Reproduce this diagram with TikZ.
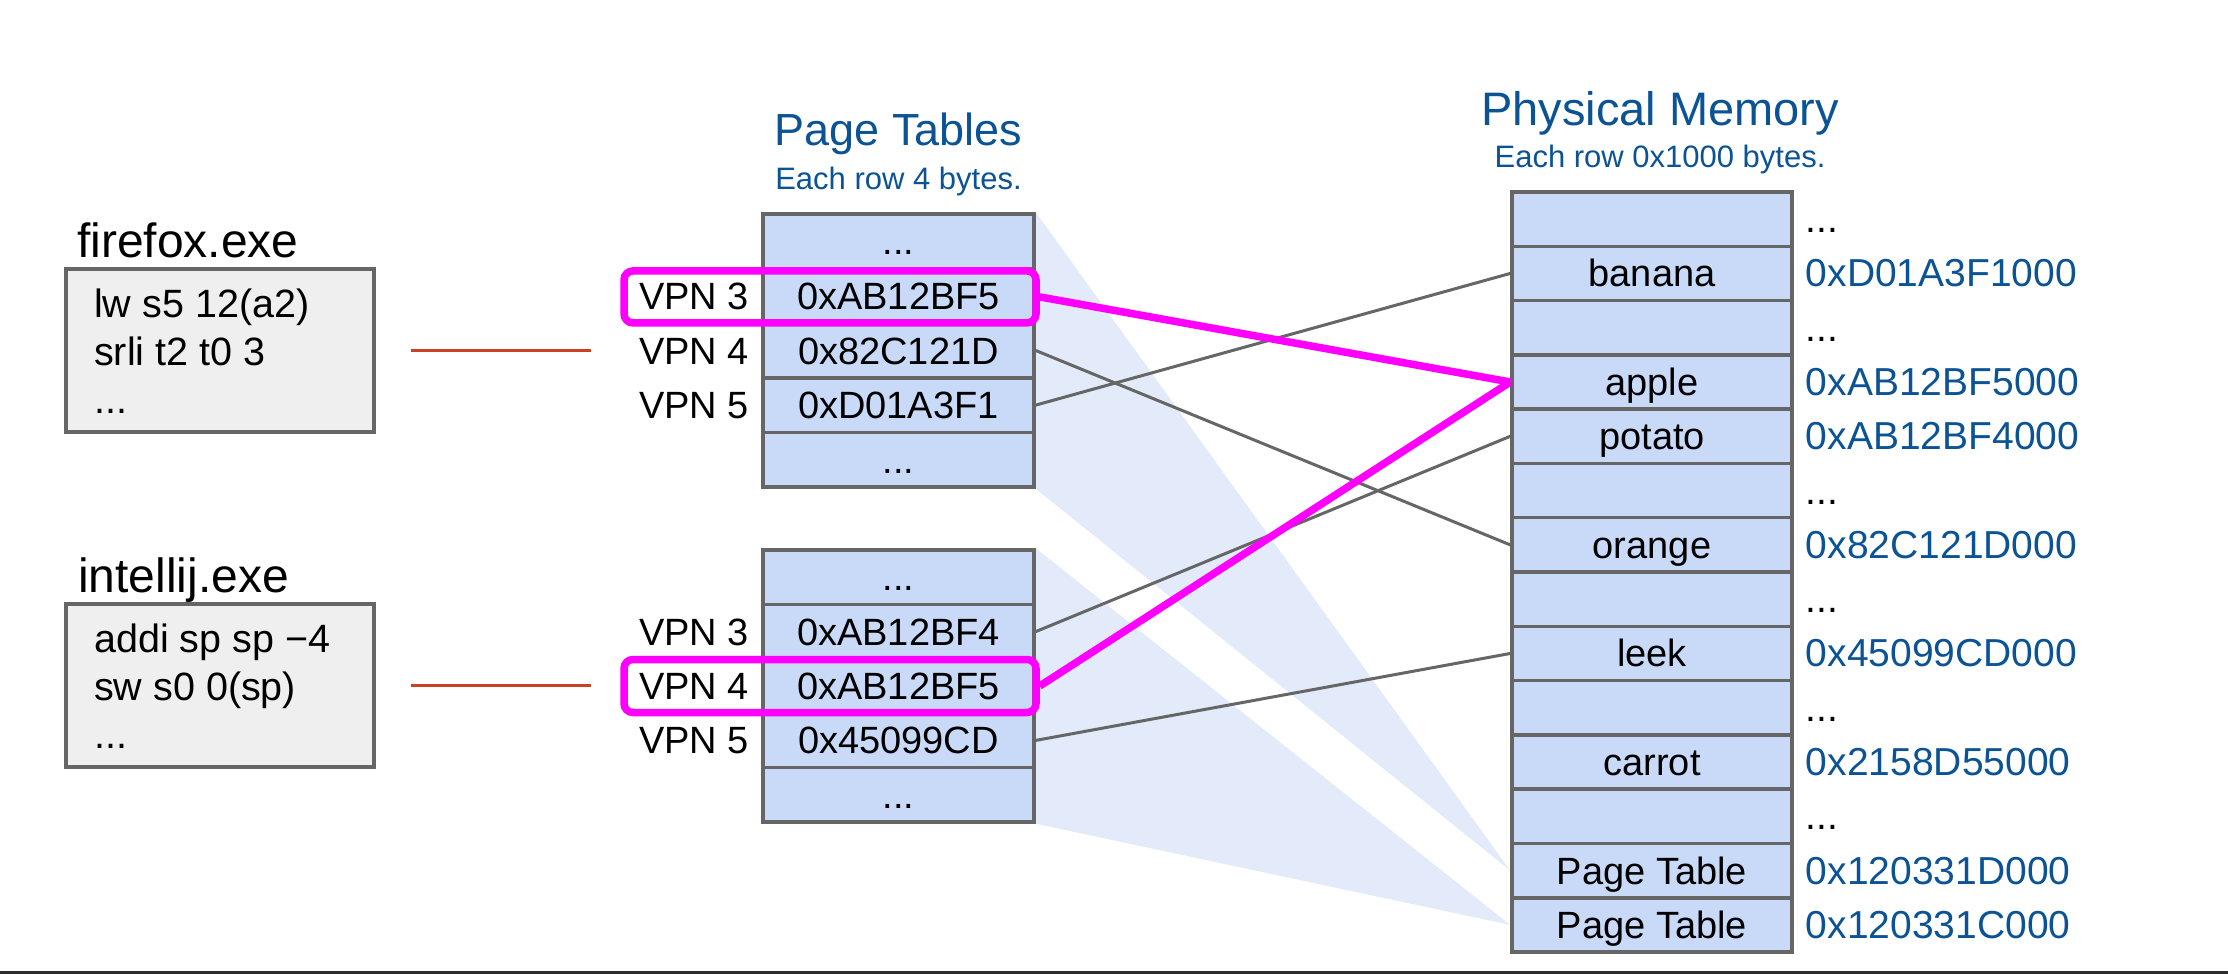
\documentclass[tikz,border=0pt]{standalone}
\usepackage{fontspec}
\setmainfont{Liberation Sans}
\usetikzlibrary{backgrounds}

\definecolor{titleblue}{RGB}{11,83,148}
\definecolor{cellblue}{RGB}{201,218,248}
\definecolor{shadeblue}{RGB}{227,235,250}
\definecolor{edgegray}{RGB}{102,102,102}
\definecolor{codegray}{RGB}{239,239,239}
\definecolor{redline}{RGB}{204,65,37}
\definecolor{hlpink}{RGB}{255,0,255}
\definecolor{barblack}{RGB}{43,43,43}

\newcommand{\fsz}[1]{\fontsize{#1}{#1}\selectfont}
\newcommand{\threedots}{...}

\begin{document}
\begin{tikzpicture}[x=1pt,y=-1pt,
        ptcell/.style={draw=edgegray,line width=3.5pt,fill=cellblue,
            minimum width=271pt,minimum height=54.6pt,inner sep=0pt,
            text height=27pt,text depth=0pt,font=\fsz{38}},
        pmcell/.style={ptcell,minimum width=280pt,minimum height=54.3pt},
        vpn/.style={anchor=east,inner sep=0pt,text height=27pt,text depth=0pt,font=\fsz{38}},
        addr/.style={anchor=west,inner sep=0pt,text height=27pt,text depth=0pt,font=\fsz{39}},
        codebox/.style={draw=edgegray,line width=3.5pt,fill=codegray,
            minimum width=308pt,minimum height=163pt},
        code/.style={anchor=north west,align=left,inner sep=0pt,
            font=\fontsize{39.5}{48}\selectfont},
        proc/.style={anchor=base west,inner sep=0pt,font=\fsz{48}},
        title/.style={anchor=base,inner sep=0pt,text=titleblue},
        hlbox/.style={draw=hlpink,line width=7.5pt,rounded corners=9pt,
            minimum width=412pt,minimum height=52pt},
        link/.style={draw=edgegray,line width=3pt},
        hllink/.style={draw=hlpink,line width=7.5pt},
        tick/.style={draw=redline,line width=3.5pt}
    ]
    \useasboundingbox (0,0) rectangle (2228,974);

    % processes
    \node[proc] (ffname) at (77,257) {firefox.exe};
    \node[codebox] (ffbox) at (220,350.5) {};
    \node[code] (ffcode) at (94,283.4) {\strut lw s5 12(a2)\\srli t2 t0 3\\...};

    \node[proc] (ijname) at (78,592) {intellij.exe};
    \node[codebox] (ijbox) at (220,685.5) {};
    \node[code] (ijcode) at (94,618.4) {\strut addi sp sp −4\\sw s0 0(sp)\\...};

    \coordinate (ffa) at ([xshift=35pt]ffbox.east);
    \coordinate (ffb) at ([xshift=215pt]ffbox.east);
    \coordinate (ija) at ([xshift=35pt]ijbox.east);
    \coordinate (ijb) at ([xshift=215pt]ijbox.east);
    \draw[tick] (ffa) -- (ffb);
    \draw[tick] (ija) -- (ijb);

    % page tables
    \node[title,font=\fsz{45}] (pttitle) at (898.5,145) {Page Tables};
    \node[title,font=\fsz{31}] (ptsub) at (898.5,189) {Each row 4 bytes.};
    \foreach \t [count=\i from 0] in {\threedots,0xAB12BF5,0x82C121D,0xD01A3F1,\threedots}
        \node[ptcell] (pa\i) at (898.5,{214+54.6*(\i+0.5)}) {\t};
    \foreach \t [count=\i from 0] in {\threedots,0xAB12BF4,0xAB12BF5,0x45099CD,\threedots}
        \node[ptcell,minimum height=54.4pt] (pb\i) at (898.5,{550+54.4*(\i+0.5)}) {\t};
    \foreach \t [count=\i from 1] in {3,4,5} {
        \node[vpn] (va\i) at ([xshift=-12pt]pa\i.west) {VPN \t};
        \node[vpn] (vb\i) at ([xshift=-12pt]pb\i.west) {VPN \t};
    }

    % physical memory
    \node[title,font=\fsz{47}] (pmtitle) at (1660,125) {Physical Memory};
    \node[title,font=\fsz{31}] (pmsub) at (1660,167) {Each row 0x1000 bytes.};
    \foreach \t [count=\i from 0] in {{},banana,{},apple,potato,{},orange,{},leek,{},carrot,{},Page Table,Page Table}
        \node[pmcell] (pm\i) at (1652,{192+54.29*(\i+0.5)}) {\t};
    \foreach \t/\c [count=\i from 0] in {\threedots/black,0xD01A3F1000/titleblue,\threedots/black,
            0xAB12BF5000/titleblue,0xAB12BF4000/titleblue,\threedots/black,0x82C121D000/titleblue,
            \threedots/black,0x45099CD000/titleblue,\threedots/black,0x2158D55000/titleblue,
            \threedots/black,0x120331D000/titleblue,0x120331C000/titleblue}
        \node[addr,text=\c] (ad\i) at ([xshift=12pt]pm\i.east) {\t};

    % where the tables live
    \begin{scope}[on background layer]
        \fill[shadeblue] (pa0.north east) -- (pa4.south east) -- (pm12.west) -- cycle;
        \fill[shadeblue] (pb0.north east) -- (pb4.south east) -- (pm13.west) -- cycle;
    \end{scope}

    \draw[link] (pa2.east) -- (pm6.west);
    \draw[link] (pa3.east) -- (pm1.west);
    \draw[link] (pb1.east) -- (pm4.west);
    \draw[link] (pb3.east) -- (pm8.west);

    \node[hlbox] (hla) at ([xshift=-68.5pt,yshift=-1pt]pa1.center) {};
    \node[hlbox,minimum height=53pt] (hlb) at ([xshift=-68.5pt]pb2.center) {};
    \draw[hllink] (hla.east) -- (pm3.west);
    \draw[hllink] (hlb.east) -- (pm3.west);

    \fill[barblack] (0,970.5) rectangle (2228,974);
\end{tikzpicture}
\end{document}
